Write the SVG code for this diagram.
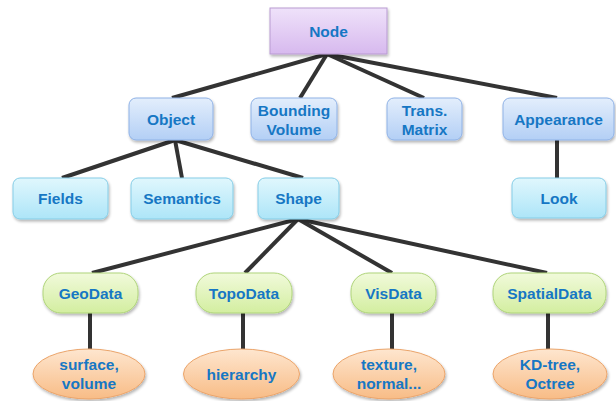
<svg xmlns="http://www.w3.org/2000/svg" width="616" height="401" viewBox="0 0 616 401">
  <defs>
    <linearGradient id="gPurple" x1="0" y1="0" x2="0" y2="1">
      <stop offset="0" stop-color="#efe2fa"/>
      <stop offset="1" stop-color="#d7b9ee"/>
    </linearGradient>
    <linearGradient id="gBlue" x1="0" y1="0" x2="0" y2="1">
      <stop offset="0" stop-color="#e3eefc"/>
      <stop offset="1" stop-color="#b3cff5"/>
    </linearGradient>
    <linearGradient id="gCyan" x1="0" y1="0" x2="0" y2="1">
      <stop offset="0" stop-color="#e0f7fd"/>
      <stop offset="1" stop-color="#ade5f8"/>
    </linearGradient>
    <linearGradient id="gGreen" x1="0" y1="0" x2="0" y2="1">
      <stop offset="0" stop-color="#f1fadb"/>
      <stop offset="1" stop-color="#d3eea0"/>
    </linearGradient>
    <linearGradient id="gOrange" x1="0" y1="0" x2="0" y2="1">
      <stop offset="0" stop-color="#fee6cf"/>
      <stop offset="1" stop-color="#f8bc86"/>
    </linearGradient>
    <filter id="shadow" x="-10%" y="-10%" width="130%" height="140%">
      <feGaussianBlur in="SourceAlpha" stdDeviation="1.5"/>
      <feOffset dx="1" dy="2" result="b"/>
      <feComponentTransfer><feFuncA type="linear" slope="0.3"/></feComponentTransfer>
      <feMerge><feMergeNode/><feMergeNode in="SourceGraphic"/></feMerge>
    </filter>
  </defs>
  <style>
    .edge { stroke: #333333; stroke-width: 4; fill: none; stroke-linecap: butt; }
    .box { filter: url(#shadow); stroke-width: 1; }
    .purple { fill: url(#gPurple); stroke: #b99bd2; }
    .blue { fill: url(#gBlue); stroke: #8fb2e6; }
    .cyan { fill: url(#gCyan); stroke: #85cde7; }
    .green { fill: url(#gGreen); stroke: #afd47a; }
    .orange { fill: url(#gOrange); stroke: #eba46a; }
    text { font-family: "Liberation Sans", Arial, sans-serif; font-weight: bold; font-size: 15.5px; fill: #1677c4; text-anchor: middle; }
  </style>

  <g id="connectors">
    <line class="edge" x1="327" y1="54" x2="172" y2="98"/>
    <line class="edge" x1="327" y1="54" x2="300" y2="98"/>
    <line class="edge" x1="327" y1="54" x2="424" y2="98"/>
    <line class="edge" x1="327" y1="54" x2="557" y2="98"/>
    <line class="edge" x1="175" y1="140" x2="62" y2="178"/>
    <line class="edge" x1="175" y1="140" x2="182" y2="178"/>
    <line class="edge" x1="175" y1="140" x2="303" y2="178"/>
    <line class="edge" x1="557" y1="140" x2="557" y2="178"/>
    <line class="edge" x1="298" y1="219" x2="92" y2="273"/>
    <line class="edge" x1="298" y1="219" x2="245" y2="273"/>
    <line class="edge" x1="298" y1="219" x2="392" y2="273"/>
    <line class="edge" x1="298" y1="219" x2="547" y2="273"/>
    <line class="edge" x1="90" y1="313" x2="90" y2="349"/>
    <line class="edge" x1="243" y1="313" x2="243" y2="349"/>
    <line class="edge" x1="392" y1="313" x2="392" y2="349"/>
    <line class="edge" x1="548" y1="313" x2="548" y2="349"/>
  </g>

  <g id="node-node">
    <rect class="box purple" x="270" y="8" width="117" height="46"/>
    <text x="328.5" y="37">Node</text>
  </g>

  <g id="node-object">
    <rect class="box blue" x="129" y="98" width="84" height="42" rx="7"/>
    <text x="171" y="125">Object</text>
  </g>
  <g id="node-bounding-volume">
    <rect class="box blue" x="251" y="98" width="86" height="42" rx="7"/>
    <text x="294" y="116">Bounding</text>
    <text x="294" y="135">Volume</text>
  </g>
  <g id="node-trans-matrix">
    <rect class="box blue" x="387" y="98" width="75" height="42" rx="7"/>
    <text x="424.5" y="116">Trans.</text>
    <text x="424.5" y="135">Matrix</text>
  </g>
  <g id="node-appearance">
    <rect class="box blue" x="503" y="98" width="111" height="42" rx="7"/>
    <text x="558.5" y="125">Appearance</text>
  </g>

  <g id="node-fields">
    <rect class="box cyan" x="13" y="178" width="95" height="41" rx="7"/>
    <text x="60.5" y="204">Fields</text>
  </g>
  <g id="node-semantics">
    <rect class="box cyan" x="131" y="178" width="102" height="41" rx="7"/>
    <text x="182" y="204">Semantics</text>
  </g>
  <g id="node-shape">
    <rect class="box cyan" x="258" y="178" width="81" height="41" rx="7"/>
    <text x="298.5" y="204">Shape</text>
  </g>
  <g id="node-look">
    <rect class="box cyan" x="512" y="178" width="94" height="40" rx="7"/>
    <text x="559" y="204">Look</text>
  </g>

  <g id="node-geodata">
    <rect class="box green" x="43" y="273" width="95" height="40" rx="18"/>
    <text x="90.5" y="299">GeoData</text>
  </g>
  <g id="node-topodata">
    <rect class="box green" x="196" y="273" width="96" height="40" rx="18"/>
    <text x="244" y="299">TopoData</text>
  </g>
  <g id="node-visdata">
    <rect class="box green" x="351" y="273" width="85" height="40" rx="18"/>
    <text x="393.5" y="299">VisData</text>
  </g>
  <g id="node-spatialdata">
    <rect class="box green" x="493" y="273" width="113" height="40" rx="18"/>
    <text x="549.5" y="299">SpatialData</text>
  </g>

  <g id="node-surface-volume">
    <ellipse class="box orange" cx="89" cy="374" rx="56" ry="25"/>
    <text x="89" y="370">surface,</text>
    <text x="89" y="389">volume</text>
  </g>
  <g id="node-hierarchy">
    <ellipse class="box orange" cx="241.5" cy="374" rx="58" ry="25"/>
    <text x="241.5" y="380">hierarchy</text>
  </g>
  <g id="node-texture-normal">
    <ellipse class="box orange" cx="389" cy="374" rx="56" ry="25"/>
    <text x="389" y="370">texture,</text>
    <text x="389" y="389">normal...</text>
  </g>
  <g id="node-kdtree-octree">
    <ellipse class="box orange" cx="550" cy="374" rx="57" ry="25"/>
    <text x="550" y="370">KD-tree,</text>
    <text x="550" y="389">Octree</text>
  </g>
</svg>
